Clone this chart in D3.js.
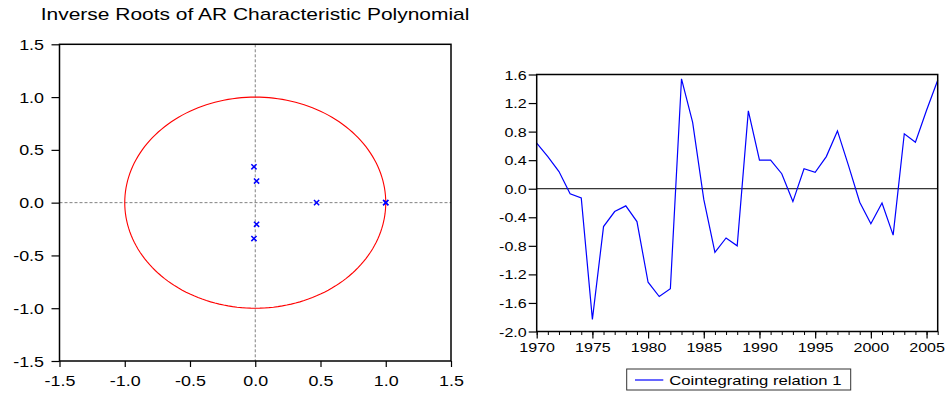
<!DOCTYPE html>
<html><head><meta charset="utf-8">
<script src="https://cdn.jsdelivr.net/npm/d3@7"></script>
<style>
html,body{margin:0;padding:0;background:#fff;}
svg{display:block;}
text{font-family:"Liberation Sans",Arial,sans-serif;fill:#000;}
</style></head>
<body>
<svg id="chart" width="946" height="395"></svg>
<script>
// ---------- data ----------
const titleLeft = "Inverse Roots of AR Characteristic Polynomial";
const rootRe = [-0.01, 0.01, 0.01, -0.01, 0.47, 1.0, 1.0];
const rootIm = [0.34, 0.205, -0.205, -0.34, 0.0, 0.0, 0.0];
const leftTicks = [-1.5, -1.0, -0.5, 0.0, 0.5, 1.0, 1.5];

const years = [1970,1971,1972,1973,1974,1975,1976,1977,1978,1979,
               1980,1981,1982,1983,1984,1985,1986,1987,1988,1989,
               1990,1991,1992,1993,1994,1995,1996,1997,1998,1999,
               2000,2001,2002,2003,2004,2005,2006];
const coint = [0.64,0.45,0.24,-0.07,-0.13,-1.83,-0.53,-0.32,-0.24,-0.46,
               -1.31,-1.51,-1.40,1.54,0.93,-0.15,-0.89,-0.69,-0.80,1.09,
               0.40,0.40,0.21,-0.18,0.28,0.23,0.45,0.81,0.32,-0.19,
               -0.49,-0.20,-0.65,0.77,0.65,1.10,1.52];
const rightYTicks = [-2.0,-1.6,-1.2,-0.8,-0.4,0.0,0.4,0.8,1.2,1.6];
const rightXMajor = [1970,1975,1980,1985,1990,1995,2000,2005];
const rightXMinor = years;
const seriesName = "Cointegrating relation 1";

// ---------- setup ----------
const SX = 1.234; // horizontal stretch of the original picture
const svg = d3.select("#chart");
const fmt = d => d.toFixed(1);

// ---------- left chart ----------
const xL = d3.scaleLinear().domain([-1.5, 1.5]).range([59.5, 451]);
const yL = d3.scaleLinear().domain([-1.5, 1.5]).range([361, 44.3]);
const gL = svg.append("g");

svg.append("text")
  .attr("transform", `translate(40.7,20) scale(${SX},1)`)
  .attr("font-size", 17)
  .text(titleLeft);

// dashed zero lines
gL.append("line")
  .attr("x1", xL(0)).attr("x2", xL(0)).attr("y1", yL(1.5)).attr("y2", yL(-1.5))
  .attr("stroke", "#808080").attr("stroke-width", 1).attr("stroke-dasharray", "3,2");
gL.append("line")
  .attr("x1", xL(-1.5)).attr("x2", xL(1.5)).attr("y1", yL(0)).attr("y2", yL(0))
  .attr("stroke", "#808080").attr("stroke-width", 1).attr("stroke-dasharray", "3,2");

// unit circle
const circ = d3.range(0, 361, 2).map(a => [Math.cos(a * Math.PI / 180), Math.sin(a * Math.PI / 180)]);
gL.append("path")
  .attr("d", d3.line().x(d => xL(d[0])).y(d => yL(d[1]))(circ))
  .attr("fill", "none").attr("stroke", "#ff0000").attr("stroke-width", 1.1);

// roots as small crosses
const roots = rootRe.map((r, i) => ({re: r, im: rootIm[i]}));
const cs = 2.6;
gL.selectAll("path.root").data(roots).enter().append("path")
  .attr("class", "root")
  .attr("d", d => {
    const cx = xL(d.re), cy = yL(d.im);
    return `M${cx-cs},${cy-cs}L${cx+cs},${cy+cs}M${cx-cs},${cy+cs}L${cx+cs},${cy-cs}`;
  })
  .attr("stroke", "#0000ff").attr("stroke-width", 1.5).attr("fill", "none");

// axes
const axL = gL.append("g").attr("transform", `translate(${xL(-1.5)},0)`)
  .call(d3.axisLeft(yL).tickValues(leftTicks).tickFormat(fmt).tickSizeInner(8).tickSizeOuter(0));
axL.select(".domain").remove();
axL.selectAll(".tick line").attr("stroke", "#000").attr("stroke-width", 1.2);
axL.selectAll(".tick text")
  .attr("font-size", 14.5).attr("font-family", null)
  .attr("x", -15.5 / SX).attr("dy", "0.35em")
  .attr("transform", `scale(${SX},1)`);

const axLB = gL.append("g").attr("transform", `translate(0,${yL(-1.5)})`)
  .call(d3.axisBottom(xL).tickValues(leftTicks).tickFormat(fmt).tickSizeInner(6).tickSizeOuter(0));
axLB.select(".domain").remove();
axLB.selectAll(".tick line").attr("stroke", "#000").attr("stroke-width", 1.2);
axLB.selectAll(".tick text")
  .attr("font-size", 14.5).attr("font-family", null)
  .attr("y", 25.5).attr("dy", "0")
  .attr("transform", `scale(${SX},1)`);

gL.append("rect")
  .attr("x", xL(-1.5)).attr("y", yL(1.5))
  .attr("width", xL(1.5) - xL(-1.5)).attr("height", yL(-1.5) - yL(1.5))
  .attr("fill", "none").attr("stroke", "#000").attr("stroke-width", 1.5);

// ---------- right chart ----------
const xR = d3.scaleLinear().domain([1970, 2006]).range([536.7, 937.7]);
const yR = d3.scaleLinear().domain([-2.0, 1.6]).range([331.5, 74.5]);
const gR = svg.append("g");

gR.append("line")
  .attr("x1", xR(1970)).attr("x2", xR(2006)).attr("y1", yR(0)).attr("y2", yR(0))
  .attr("stroke", "#000").attr("stroke-width", 1);

gR.append("path")
  .datum(years.map((y, i) => [y, coint[i]]))
  .attr("d", d3.line().x(d => xR(d[0])).y(d => yR(d[1])))
  .attr("fill", "none").attr("stroke", "#0000ff").attr("stroke-width", 1.2);

const axR = gR.append("g").attr("transform", `translate(${xR(1970)},0)`)
  .call(d3.axisLeft(yR).tickValues(rightYTicks).tickFormat(fmt).tickSizeInner(8).tickSizeOuter(0));
axR.select(".domain").remove();
axR.selectAll(".tick line").attr("stroke", "#000").attr("stroke-width", 1.2);
axR.selectAll(".tick text")
  .attr("font-size", 13).attr("font-family", null)
  .attr("x", -10 / SX).attr("dy", "0.35em")
  .attr("transform", `scale(${SX},1)`);

const axRm = gR.append("g").attr("transform", `translate(0,${yR(-2.0)})`)
  .call(d3.axisBottom(xR).tickValues(rightXMinor).tickFormat("").tickSizeInner(3.5).tickSizeOuter(0));
axRm.select(".domain").remove();
axRm.selectAll(".tick line").attr("stroke", "#000").attr("stroke-width", 1);

const axRB = gR.append("g").attr("transform", `translate(0,${yR(-2.0)})`)
  .call(d3.axisBottom(xR).tickValues(rightXMajor).tickFormat(d3.format("d")).tickSizeInner(7).tickSizeOuter(0));
axRB.select(".domain").remove();
axRB.selectAll(".tick line").attr("stroke", "#000").attr("stroke-width", 1.2);
axRB.selectAll(".tick text")
  .attr("font-size", 13).attr("font-family", null)
  .attr("y", 21).attr("dy", "0")
  .attr("transform", `scale(${SX},1)`);

gR.append("rect")
  .attr("x", xR(1970)).attr("y", yR(1.6))
  .attr("width", xR(2006) - xR(1970)).attr("height", yR(-2.0) - yR(1.6))
  .attr("fill", "none").attr("stroke", "#000").attr("stroke-width", 1.5);

// legend
const lg = svg.append("g").attr("transform", "translate(626.7,369)");
lg.append("rect").attr("x", 0).attr("y", 0).attr("width", 224).attr("height", 21)
  .attr("fill", "#fff").attr("stroke", "#333").attr("stroke-width", 1);
lg.append("line").attr("x1", 8.3).attr("x2", 36.6).attr("y1", 11).attr("y2", 11)
  .attr("stroke", "#0000ff").attr("stroke-width", 1.2);
lg.append("text")
  .attr("transform", `translate(42.6,16) scale(${SX},1)`)
  .attr("font-size", 13.5)
  .text(seriesName);
</script>
</body></html>
